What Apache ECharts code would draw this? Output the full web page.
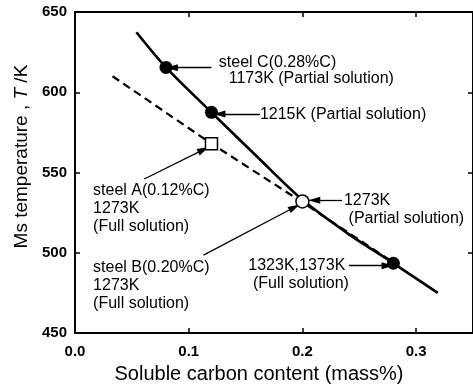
<!DOCTYPE html>
<html>
<head>
<meta charset="utf-8">
<script src="https://cdn.jsdelivr.net/npm/echarts@6/dist/echarts.min.js"></script>
<style>
html,body{margin:0;padding:0;background:#fff}
#chart{width:473px;height:389px}
</style>
</head>
<body>
<div id="chart"></div>
<script>
// Ms temperature vs soluble carbon content
var solidLine = [[0.054,637.4],[0.08,615.5],[0.12,587.5],[0.16,560],[0.2,533],[0.24,512],[0.28,493.5],[0.319,475]];
var dashLine = [[0.033,610],[0.12,568],[0.2,531.5],[0.28,494]];
var filledPts = [[0.08,615.5],[0.12,587.5],[0.28,493.5]];
var openCircle = [[0.2,532]];
var openSquare = [[0.12,568]];
var xTicks = [0, 0.1, 0.2, 0.3];
var yTicks = [450, 500, 550, 600, 650];

// arrows, tail -> head, in data units
var arrows = [
  [[0.120,615.3],[0.0852,615.3]],
  [[0.1626,586.5],[0.127,586.5]],
  [[0.0609,546],[0.113,564.3]],
  [[0.113,498.6],[0.193,528.4]],
  [[0.2348,532.7],[0.2104,532.7]],
  [[0.2409,492],[0.2748,492]]
];
// note text, anchor in data units, alignment
var notes = [
  ['steel C(0.28%C)', 0.1265, 618.7, 'left'],
  ['1173K (Partial solution)', 0.1352, 608.4, 'left'],
  ['1215K (Partial solution)', 0.1626, 586.2, 'left'],
  ['steel A(0.12%C)', 0.0159, 538.75, 'left'],
  ['1273K', 0.0159, 527.6, 'left'],
  ['(Full solution)', 0.0159, 516.4, 'left'],
  ['steel B(0.20%C)', 0.0159, 490.7, 'left'],
  ['1273K', 0.0159, 479.5, 'left'],
  ['(Full solution)', 0.0159, 468.2, 'left'],
  ['1273K', 0.2365, 532.7, 'left'],
  ['(Partial solution)', 0.2406, 521.1, 'left'],
  ['1323K,1373K', 0.2377, 491.9, 'right'],
  ['(Full solution)', 0.2409, 481, 'right']
];

var FONT = '"Liberation Sans", Arial, Helvetica, sans-serif';
var chart = echarts.init(document.getElementById('chart'));

function axisBase(extra) {
  var a = {
    type: 'value',
    axisLine: {show: true, onZero: false, lineStyle: {color: '#000', width: 2}},
    axisTick: {show: true, inside: true, length: 5, lineStyle: {color: '#000', width: 1.5}},
    splitLine: {show: false}
  };
  for (var k in extra) a[k] = extra[k];
  return a;
}

var option = {
  animation: false,
  backgroundColor: '#fff',
  grid: {left: 75, right: -4.5, top: 12, bottom: 48},
  xAxis: [
    axisBase({
      position: 'bottom', min: xTicks[0], max: 0.35, interval: xTicks[1] - xTicks[0],
      axisLabel: {color: '#000', fontSize: 15, fontWeight: 'bold', fontFamily: FONT, margin: 11, showMaxLabel: false,
        formatter: function (v) { return v.toFixed(1); }},
      name: 'Soluble carbon content (mass%)', nameLocation: 'middle', nameGap: 27,
      nameTextStyle: {color: '#000', fontSize: 20, fontFamily: FONT, padding: [0, 30, 0, 0]}
    }),
    axisBase({
      position: 'top', min: xTicks[0], max: 0.35, interval: xTicks[1] - xTicks[0],
      axisLabel: {show: false}
    })
  ],
  yAxis: [
    axisBase({
      position: 'left', min: yTicks[0], max: yTicks[yTicks.length - 1], interval: yTicks[1] - yTicks[0],
      axisLabel: {color: '#000', fontSize: 15, fontWeight: 'bold', fontFamily: FONT, margin: 8},
      name: 'Ms temperature , {i|T} /K', nameLocation: 'middle', nameGap: 41,
      nameTextStyle: {color: '#000', fontSize: 19, fontFamily: FONT, padding: [0, 0, 0, 32],
        rich: {i: {fontStyle: 'italic', fontSize: 19, fontFamily: FONT, color: '#000'}}}
    }),
    axisBase({
      position: 'right', min: yTicks[0], max: yTicks[yTicks.length - 1], interval: yTicks[1] - yTicks[0],
      axisLabel: {show: false}
    })
  ],
  series: [
    {
      type: 'line', data: solidLine, smooth: 0.3, symbol: 'none', z: 2,
      lineStyle: {color: '#000', width: 2.7}
    },
    {
      type: 'line', data: dashLine, symbol: 'none', z: 2,
      lineStyle: {color: '#000', width: 2.2, type: [8, 5]},
      markLine: {
        silent: true, symbol: ['none', 'triangle'], symbolSize: [7, 12],
        label: {show: false},
        lineStyle: {color: '#000', width: 1.3, type: 'solid'},
        data: arrows.map(function (a) {
          return [{coord: a[0]}, {coord: a[1]}];
        })
      }
    },
    {
      type: 'scatter', data: filledPts, symbol: 'circle', symbolSize: 13, z: 5,
      itemStyle: {color: '#000', opacity: 1}
    },
    {
      type: 'scatter', data: openCircle, symbol: 'circle', symbolSize: 13, z: 5,
      itemStyle: {color: '#fff', borderColor: '#000', borderWidth: 1.5, opacity: 1}
    },
    {
      type: 'scatter', data: openSquare, symbol: 'rect', symbolSize: 12, z: 5,
      itemStyle: {color: '#fff', borderColor: '#000', borderWidth: 1.5, opacity: 1}
    }
  ]
};
chart.setOption(option);

var texts = notes.map(function (n) {
  var p = chart.convertToPixel({xAxisIndex: 0, yAxisIndex: 0}, [n[1], n[2]]);
  return {
    type: 'text', x: p[0], y: p[1], z: 10,
    style: {text: n[0], fill: '#000', fontSize: 16, fontFamily: FONT, align: n[3], verticalAlign: 'middle'}
  };
});
chart.setOption({graphic: texts});
</script>
</body>
</html>
